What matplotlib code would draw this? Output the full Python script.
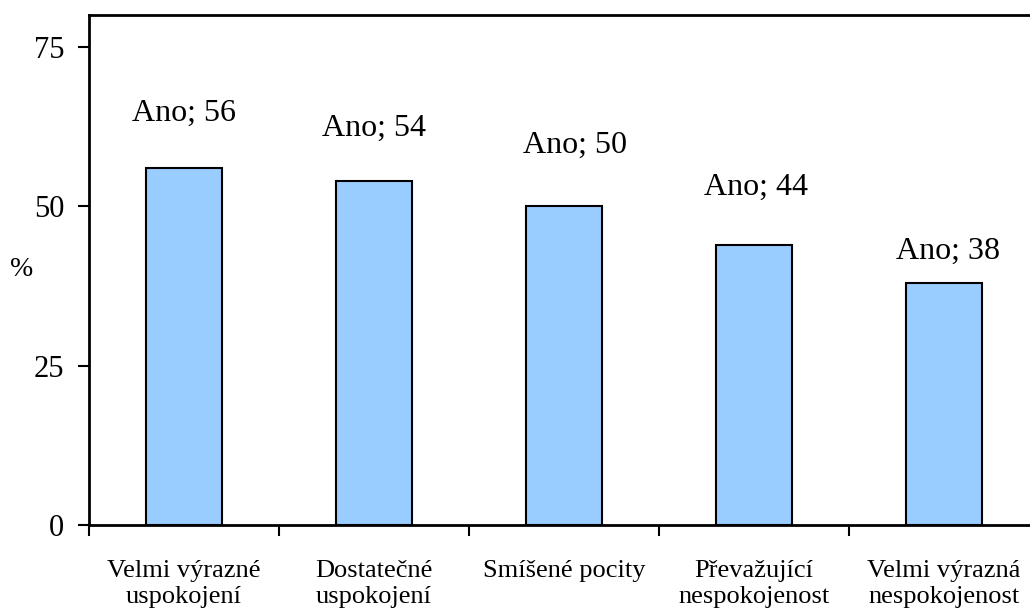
import matplotlib.pyplot as plt
import numpy as np

categories = ["Velmi výrazné\nuspokojení", "Dostatečné\nuspokojení", "Smíšené pocity",
              "Převažující\nnespokojenost", "Velmi výrazná\nnespokojenost"]
values = [56, 54, 50, 44, 38]
label_y = [64.6, 62.3, 59.6, 53.0, 43.0]
label_dx = [0, 0, 0.06, 0.01, 0.02]

plt.rcParams['font.family'] = ['Liberation Serif', 'DejaVu Serif']

fig = plt.figure(figsize=(10.3, 6.14), dpi=100)
ax = fig.add_axes([89/1030, 89/614, 950/1030, 510/614])

x = np.arange(len(values))
ax.bar(x, values, width=0.4, color='#99CCFF', edgecolor='black', linewidth=1.5)

for i, v in enumerate(values):
    ax.text(x[i] + label_dx[i], label_y[i], "Ano; %d" % v, ha='center', va='center', fontsize=23)

ax.set_xlim(-0.5, len(values) - 0.5)
ax.set_ylim(0, 80)
ax.set_yticks([0, 25, 50, 75])
ax.tick_params(axis='y', labelsize=22, width=1.5, length=8, direction='out', pad=10)
ax.set_xticks(x)
ax.set_xticklabels(categories, fontsize=19, linespacing=1.25)
ax.tick_params(axis='x', length=0, pad=25)
ax.set_xticks(np.arange(len(values) + 1) - 0.5, minor=True)
ax.tick_params(axis='x', which='minor', length=8, width=1.5, direction='out')
for s in ax.spines.values():
    s.set_linewidth(2)

ax.set_ylabel("%", rotation=0, fontsize=20, va='center', ha='center')
ax.yaxis.set_label_coords(-0.071, 0.5)

plt.savefig("out.png", dpi=100)
